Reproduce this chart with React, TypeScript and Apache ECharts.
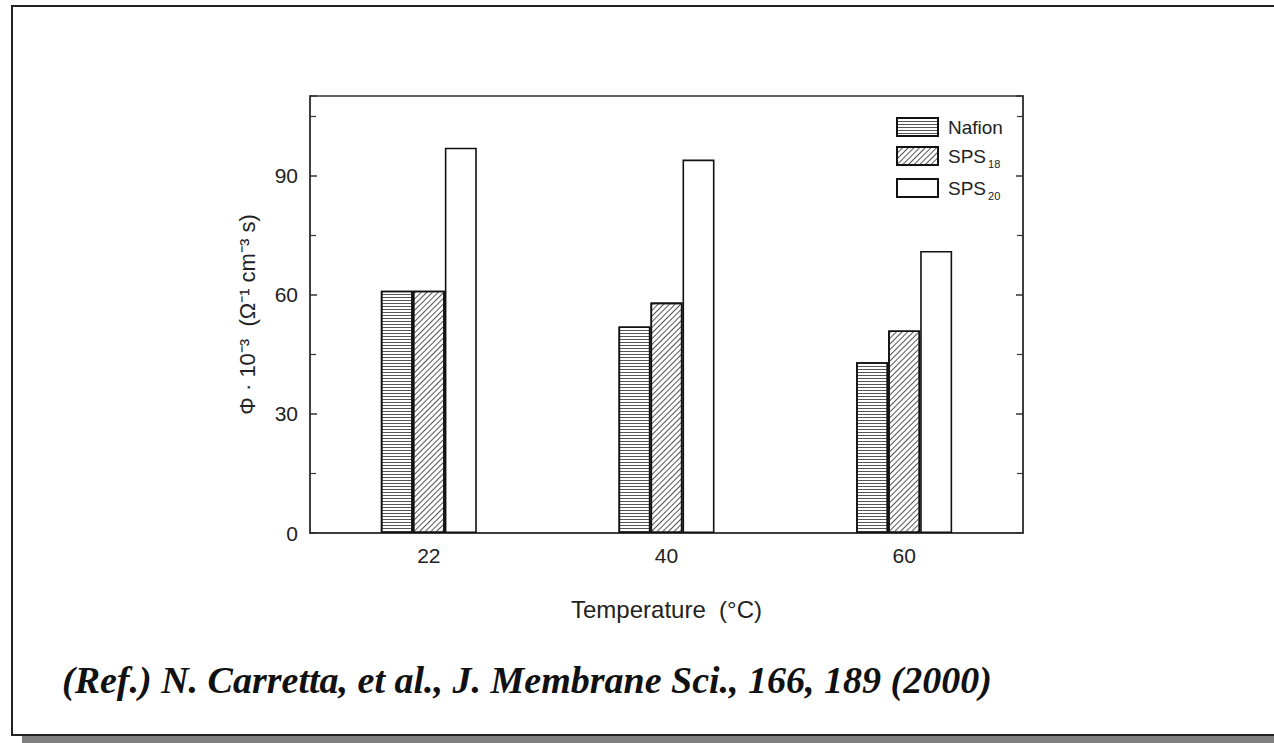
import React, { useEffect, useRef } from "react";
import * as echarts from "echarts";

const categories = ["22", "40", "60"];
const nafion = [61, 52, 43];
const sps18 = [61, 58, 51];
const sps20 = [97, 94, 71];
const yTicks = [0, 30, 60, 90];

export default function App() {
  const ref = useRef<HTMLDivElement>(null);
  useEffect(() => {
    if (!ref.current) return;
    const chart = echarts.init(ref.current, null, { renderer: "svg" });
    const font = "Liberation Sans, Arial, sans-serif";
    const barStyle = { color: "#ffffff", borderColor: "#111", borderWidth: 1.6 };
    chart.setOption({
      animation: false,
      backgroundColor: "#ffffff",
      grid: {
        left: 310,
        right: 251,
        top: 96,
        bottom: 210,
        show: true,
        borderColor: "#333",
        borderWidth: 1.5,
        backgroundColor: "transparent",
      },
      legend: {
        orient: "vertical",
        left: 891,
        top: 112,
        icon: "rect",
        itemWidth: 41,
        itemHeight: 18,
        itemGap: 9,
        data: ["Nafion", "SPS18", "SPS20"],
        formatter: (name: string) =>
          name === "Nafion" ? "{n|Nafion}" : "{n|SPS}{s|" + name.slice(3) + "}",
        textStyle: {
          color: "#222",
          fontFamily: font,
          padding: [0, 0, 0, 5],
          rich: {
            n: { fontSize: 19, fontFamily: font, color: "#222", lineHeight: 26, verticalAlign: "middle" },
            s: { fontSize: 11, fontFamily: font, color: "#222", lineHeight: 26, verticalAlign: "bottom", padding: [0, 0, 0, 2] },
          },
        },
      },
      xAxis: {
        type: "category",
        data: categories,
        axisLine: { show: true, lineStyle: { color: "#333", width: 1.5 } },
        axisTick: { show: false },
        axisLabel: { fontSize: 21, fontFamily: font, color: "#222", margin: 12 },
        name: "Temperature  (°C)",
        nameLocation: "middle",
        nameGap: 64,
        nameTextStyle: { fontSize: 24, fontFamily: font, color: "#222" },
      },
      yAxis: [
        {
          type: "value",
          min: 0,
          max: 110,
          interval: 30,
          axisLine: { show: true, lineStyle: { color: "#333", width: 1.5 } },
          axisTick: { show: true, inside: true, length: 7, lineStyle: { color: "#333", width: 1.5 } },
          minorTick: { show: true, splitNumber: 2, length: 6, lineStyle: { color: "#333", width: 1.2 } },
          splitLine: { show: false },
          axisLabel: {
            fontSize: 21,
            fontFamily: font,
            color: "#222",
            margin: 12,
            formatter: (v: number) => (yTicks.includes(v) ? String(v) : ""),
          },
          name: "Φ · 10⁻³  (Ω⁻¹ cm⁻³ s)",
          nameLocation: "middle",
          nameRotate: 90,
          nameGap: 52,
          nameTextStyle: { fontSize: 22, fontFamily: font, color: "#222" },
        },
        {
          type: "value",
          position: "right",
          min: 0,
          max: 110,
          interval: 30,
          axisLine: { show: true, lineStyle: { color: "#333", width: 1.5 } },
          axisTick: { show: true, inside: true, length: 7, lineStyle: { color: "#333", width: 1.5 } },
          minorTick: { show: true, splitNumber: 2, length: 6, lineStyle: { color: "#333", width: 1.2 } },
          splitLine: { show: false },
          axisLabel: { show: false },
        },
      ],
      series: [
        {
          name: "Nafion",
          type: "bar",
          data: nafion,
          barWidth: 32,
          barGap: "0%",
          itemStyle: {
            ...barStyle,
            decal: {
              symbol: "rect",
              symbolSize: 1,
              dashArrayX: [1, 0],
              dashArrayY: [1, 2],
              color: "#555",
              rotation: 0,
            },
          },
        },
        {
          name: "SPS18",
          type: "bar",
          data: sps18,
          barWidth: 32,
          barGap: "0%",
          itemStyle: {
            ...barStyle,
            decal: {
              symbol: "rect",
              symbolSize: 1,
              dashArrayX: [1, 0],
              dashArrayY: [1, 3],
              color: "#555",
              rotation: -Math.PI / 4,
            },
          },
        },
        {
          name: "SPS20",
          type: "bar",
          data: sps20,
          barWidth: 32,
          barGap: "0%",
          itemStyle: { ...barStyle },
        },
      ],
      graphic: [
        {
          type: "rect",
          shape: { x: 22, y: 736, width: 1260, height: 8 },
          style: { fill: "#808080" },
          silent: true,
        },
        {
          type: "rect",
          shape: { x: 12, y: 6, width: 1275, height: 729 },
          style: { fill: "none", stroke: "#222", lineWidth: 2 },
          silent: true,
        },
        {
          type: "text",
          left: 62,
          top: 661,
          style: {
            text: "(Ref.) N. Carretta, et al., J. Membrane Sci., 166, 189 (2000)",
            font: "italic bold 38px 'Liberation Serif', 'Times New Roman', serif",
            fill: "#111",
          },
          silent: true,
        },
      ],
    });
    return () => chart.dispose();
  }, []);
  return (
    <div
      ref={ref}
      style={{ position: "absolute", left: 0, top: 0, width: 1274, height: 743 }}
    />
  );
}
